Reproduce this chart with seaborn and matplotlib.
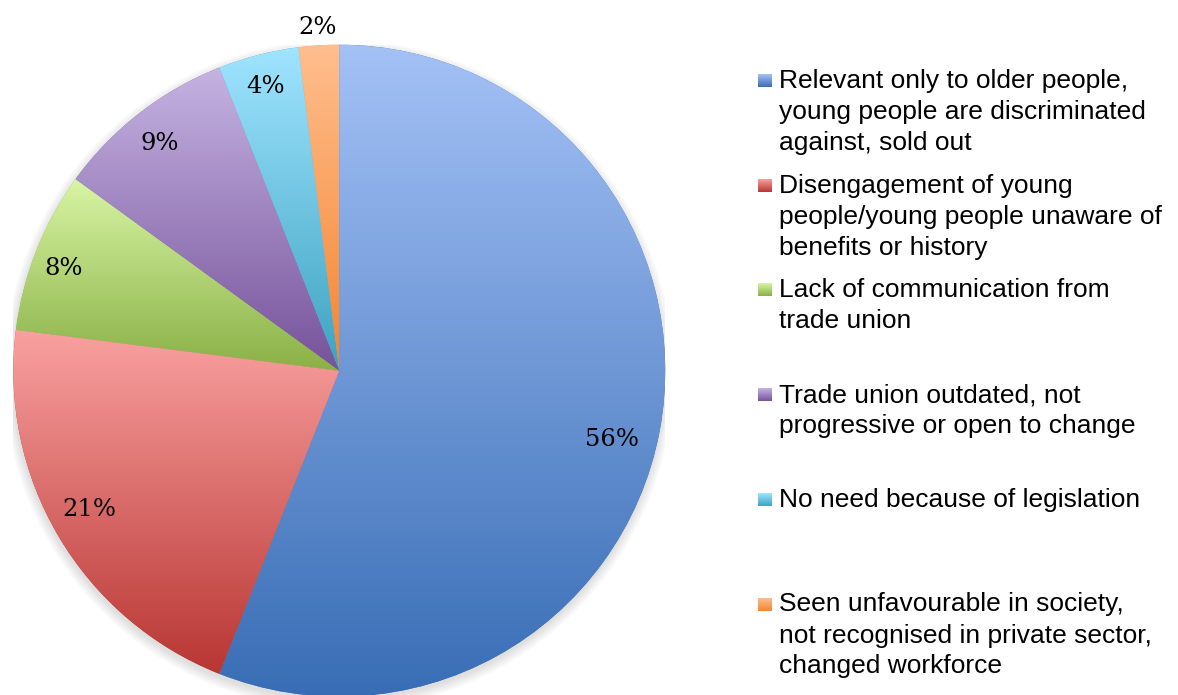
import numpy as np
import matplotlib
matplotlib.use("Agg")
import matplotlib.pyplot as plt
from matplotlib.colors import LinearSegmentedColormap
from matplotlib.patches import Circle
import seaborn as sns

# Reasons given for not joining a trade union (share of responses, %)
categories = [
    "Relevant only to older people,\nyoung people are discriminated\nagainst, sold out",
    "Disengagement of young\npeople/young people unaware of\nbenefits or history",
    "Lack of communication from\ntrade union",
    "Trade union outdated, not\nprogressive or open to change",
    "No need because of legislation",
    "Seen unfavourable in society,\nnot recognised in private sector,\nchanged workforce",
]
shares = [56, 21, 8, 9, 4, 2]
pct_labels = ["56%", "21%", "8%", "9%", "4%", "2%"]

# light (top) -> dark (bottom) fill for each slice
light_colors = ["#a4c1f6", "#f9a1a0", "#d8f5a4", "#c5b3e2", "#a0e4ff", "#ffbe8e"]
dark_colors = ["#386db5", "#b83633", "#8ab046", "#76529a", "#3ca3c1", "#f38530"]

# placement of the percentage labels (radius fraction, angular nudge in degrees)
label_radius = [0.864, 0.877, 0.901, 0.888, 0.901, 1.055]
label_nudge = [-3.4, -1.5, 1.2, 0.5, 0.2, 0.0]

sns.set_theme(style="white")
plt.rcParams["font.family"] = ["Liberation Sans", "DejaVu Sans"]

W, H = 1178, 695
fig = plt.figure(figsize=(W / 100, H / 100), dpi=100)
fig.patch.set_facecolor("white")

cx, cy, rad = 339.3, 370.7, 326.0
ax = fig.add_axes([(cx - rad) / W, (H - cy - rad) / H, 2 * rad / W, 2 * rad / H])
ax.set_axis_off()

# soft drop shadow under the pie
for k in range(8):
    ax.add_patch(Circle((-0.002, -0.012), 1.0 + 0.004 * k, facecolor="#000000",
                        alpha=0.016, edgecolor="none", zorder=0))
ax.add_patch(Circle((0, 0), 1.0, facecolor="white", edgecolor="none", zorder=0.5))

wedges, _ = ax.pie(shares, startangle=90, counterclock=False, radius=1.0,
                   colors=dark_colors, wedgeprops=dict(linewidth=0))


def vertical_gradient(c_top, c_bot):
    return LinearSegmentedColormap.from_list("g", [c_bot, c_top])


grad = np.linspace(0, 1, 256).reshape(-1, 1)
for w, lc, dc in zip(wedges, light_colors, dark_colors):
    w.set_zorder(1)
    ext = w.get_path().get_extents()
    im = ax.imshow(grad, cmap=vertical_gradient(lc, dc), origin="lower",
                   extent=[ext.x0, ext.x1, ext.y0, ext.y1], aspect="auto",
                   interpolation="bilinear", zorder=2)
    im.set_clip_path(w)

ax.set_xlim(-1, 1)
ax.set_ylim(-1, 1)
ax.set_aspect("auto")

# percentage labels
for w, lab, r, nd in zip(wedges, pct_labels, label_radius, label_nudge):
    mid = np.deg2rad((w.theta1 + w.theta2) / 2 + nd)
    ax.text(r * np.cos(mid), r * np.sin(mid), lab, ha="center", va="center",
            fontsize=17.5, family=["DejaVu Serif"],
            color="black", zorder=5, clip_on=False)

# legend entries, one slot per category
first_baseline = 88.0
slot = 104.7
line_step = 31.0
text_x = 779.0
for i, (cat, lc, dc) in enumerate(zip(categories, light_colors, dark_colors)):
    base = first_baseline + i * slot
    for j, line in enumerate(cat.split("\n")):
        fig.text(text_x / W, 1 - (base + j * line_step) / H, line,
                 ha="left", va="baseline", fontsize=19, color="black")
    # gradient swatch
    sx0, sx1 = 758.0, 772.0
    sy_top, sy_bot = base - 14.0, base - 1.0
    sax = fig.add_axes([sx0 / W, 1 - sy_bot / H, (sx1 - sx0) / W, (sy_bot - sy_top) / H])
    sax.imshow(grad, cmap=vertical_gradient(lc, dc), origin="lower",
               extent=[0, 1, 0, 1], aspect="auto", interpolation="bilinear")
    sax.set_axis_off()

fig.savefig("out.png", dpi=100, facecolor="white")
